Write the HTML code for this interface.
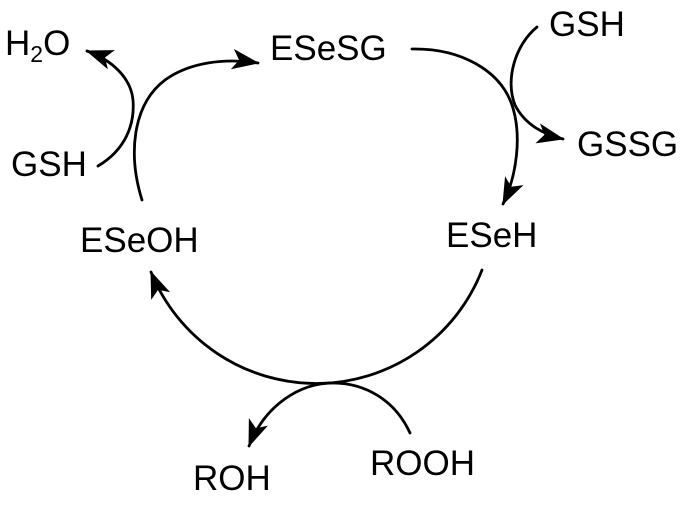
<!DOCTYPE html>
<html>
<head>
<meta charset="utf-8">
<style>
  html,body{margin:0;padding:0;background:#fff;}
  svg{display:block;}
  text{font-family:"Liberation Sans",Arial,sans-serif;font-size:35px;fill:#000;}
</style>
</head>
<body>
<svg width="690" height="506" viewBox="0 0 690 506" xmlns="http://www.w3.org/2000/svg">
  <defs>
    <marker id="ah" markerUnits="userSpaceOnUse" markerWidth="30" markerHeight="30" refX="0" refY="0" viewBox="-20 -10 22 20" orient="auto" overflow="visible">
      <path d="M1,0 L-19,-7.5 L-14,0 L-19,7.5 Z" fill="#000"/>
    </marker>
  </defs>
  <g fill="none" stroke="#000" stroke-width="2.8" stroke-linecap="round">
    <path d="M142,200 C128,155 132,105 165,80 C190,62 225,58 258,63" marker-end="url(#ah)"/>
    <path d="M98,166 C125,150 135,125 133,100 C131,78 112,60 87,51" marker-end="url(#ah)"/>
    <path d="M412,49 C460,48 500,70 512,105 C522,135 517,175 503,204" marker-end="url(#ah)"/>
    <path d="M537,27 C515,45 505,80 515,105 C525,125 545,135 563,139" marker-end="url(#ah)"/>
    <path d="M482,270 A178,178 0 0 1 151,272" marker-end="url(#ah)"/>
    <path d="M410,433 C395,400 365,383 333,383 C300,383 265,405 249,446" marker-end="url(#ah)"/>
  </g>
  <text x="5" y="55">H<tspan font-size="23" dy="7">2</tspan><tspan dy="-7">O</tspan></text>
  <text x="11" y="176">GSH</text>
  <text x="270" y="60">ESeSG</text>
  <text x="549" y="36">GSH</text>
  <text x="577" y="156">GSSG</text>
  <text x="446" y="247">ESeH</text>
  <text x="80" y="252">ESeOH</text>
  <text x="193" y="490">ROH</text>
  <text x="370" y="475">ROOH</text>
</svg>
</body>
</html>
